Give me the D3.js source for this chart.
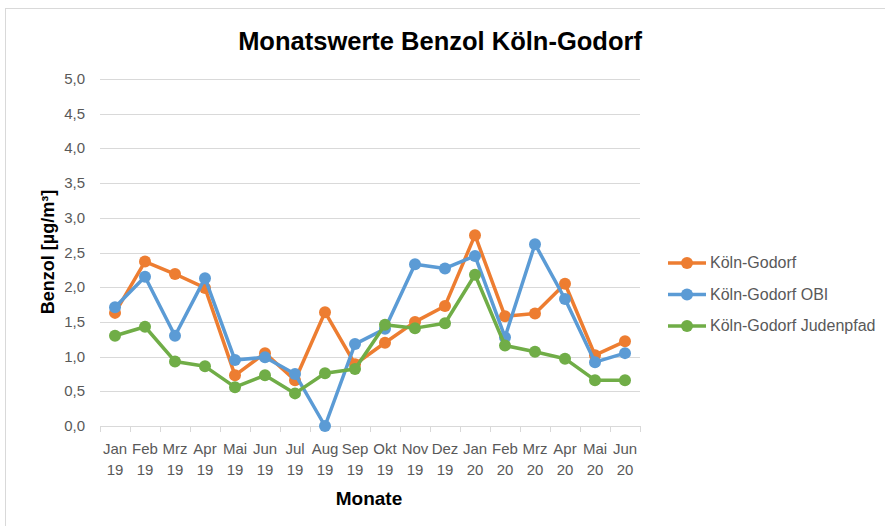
<!DOCTYPE html>
<html>
<head>
<meta charset="utf-8">
<script src="https://cdn.jsdelivr.net/npm/d3@7"></script>
<style>
  body { margin: 0; background: #fff; }
  svg { display: block; font-family: "Liberation Sans", Arial, sans-serif; }
</style>
</head>
<body>
<svg id="chart" width="885" height="526"></svg>
<script>
const months = ["Jan", "Feb", "Mrz", "Apr", "Mai", "Jun", "Jul", "Aug", "Sep", "Okt", "Nov", "Dez",
                "Jan", "Feb", "Mrz", "Apr", "Mai", "Jun"];
const years = ["19", "19", "19", "19", "19", "19", "19", "19", "19", "19", "19", "19",
               "20", "20", "20", "20", "20", "20"];

const seriesNames = ["Köln-Godorf", "Köln-Godorf OBI", "Köln-Godorf Judenpfad"];
const godorf =    [1.63, 2.37, 2.19, 1.99, 0.73, 1.05, 0.66, 1.64, 0.89, 1.20, 1.50, 1.73, 2.75, 1.58, 1.62, 2.05, 1.02, 1.22];
const godorfObi = [1.71, 2.15, 1.30, 2.13, 0.95, 0.99, 0.75, 0.00, 1.18, 1.40, 2.33, 2.27, 2.45, 1.28, 2.62, 1.83, 0.92, 1.05];
const judenpfad = [1.30, 1.43, 0.93, 0.86, 0.56, 0.73, 0.47, 0.76, 0.82, 1.46, 1.41, 1.48, 2.18, 1.16, 1.07, 0.97, 0.66, 0.66];
const colors = ["#ED7D31", "#5B9BD5", "#70AD47"];
const yTicks = [0, 0.5, 1, 1.5, 2, 2.5, 3, 3.5, 4, 4.5, 5];

const svg = d3.select("#chart");
const W = 885, H = 526;

// chart frame
svg.append("rect")
  .attr("x", 5.5).attr("y", 8.5)
  .attr("width", W + 10).attr("height", H + 10)
  .attr("fill", "#fff").attr("stroke", "#d9d9d9");

const idx = d3.range(months.length);
const x = d3.scaleBand().domain(idx).range([100, 640]);
const y = d3.scaleLinear().domain([0, 5]).range([426, 79]);

// gridlines
svg.append("g")
  .selectAll("line")
  .data(yTicks.filter(d => d > 0))
  .join("line")
  .attr("x1", 100).attr("x2", 640)
  .attr("y1", d => Math.round(y(d)) + 0.5).attr("y2", d => Math.round(y(d)) + 0.5)
  .attr("stroke", "#d9d9d9").attr("stroke-width", 1);

// y labels
svg.append("g")
  .selectAll("text")
  .data(yTicks)
  .join("text")
  .attr("x", 85).attr("y", d => y(d) + 5)
  .attr("text-anchor", "end")
  .attr("fill", "#595959").attr("font-size", 15)
  .text(d => d3.format(".1f")(d).replace(".", ","));

// x axis line and ticks
svg.append("line")
  .attr("x1", 100).attr("x2", 640)
  .attr("y1", 426.5).attr("y2", 426.5)
  .attr("stroke", "#d9d9d9");
svg.append("g")
  .selectAll("line")
  .data(d3.range(months.length + 1))
  .join("line")
  .attr("x1", i => Math.round(100 + i * x.step()) + 0.5)
  .attr("x2", i => Math.round(100 + i * x.step()) + 0.5)
  .attr("y1", 426).attr("y2", 432)
  .attr("stroke", "#d9d9d9");

// x labels
const xl = svg.append("g")
  .selectAll("text")
  .data(idx)
  .join("text")
  .attr("text-anchor", "middle")
  .attr("fill", "#595959").attr("font-size", 15);
xl.append("tspan")
  .attr("x", i => x(i) + x.bandwidth() / 2).attr("y", 454)
  .text(i => months[i]);
xl.append("tspan")
  .attr("x", i => x(i) + x.bandwidth() / 2).attr("y", 475)
  .text(i => years[i]);

// series
const allSeries = [godorf, godorfObi, judenpfad];
const line = d3.line()
  .x((d, i) => x(i) + x.bandwidth() / 2)
  .y(d => y(d));

allSeries.forEach((vals, s) => {
  const g = svg.append("g");
  g.append("path")
    .datum(vals)
    .attr("d", line)
    .attr("fill", "none")
    .attr("stroke", colors[s])
    .attr("stroke-width", 3.5)
    .attr("stroke-linejoin", "round");
  g.selectAll("circle")
    .data(vals)
    .join("circle")
    .attr("cx", (d, i) => x(i) + x.bandwidth() / 2)
    .attr("cy", d => y(d))
    .attr("r", 6)
    .attr("fill", colors[s]);
});

// title
svg.append("text")
  .attr("x", 440).attr("y", 50)
  .attr("text-anchor", "middle")
  .attr("font-size", 25.5).attr("font-weight", "bold")
  .attr("fill", "#000")
  .text("Monatswerte Benzol Köln-Godorf");

// axis titles
svg.append("text")
  .attr("transform", "translate(54,252) rotate(-90)")
  .attr("text-anchor", "middle")
  .attr("font-size", 18).attr("font-weight", "bold")
  .text("Benzol [µg/m³]");
svg.append("text")
  .attr("x", 369).attr("y", 505)
  .attr("text-anchor", "middle")
  .attr("font-size", 19).attr("font-weight", "bold")
  .text("Monate");

// legend
const legend = svg.append("g")
  .selectAll("g")
  .data(seriesNames)
  .join("g")
  .attr("transform", (d, i) => `translate(668,${263 + i * 31.5})`);
legend.append("line")
  .attr("x1", 0).attr("x2", 38)
  .attr("stroke", (d, i) => colors[i]).attr("stroke-width", 3.5);
legend.append("circle")
  .attr("cx", 19).attr("r", 6)
  .attr("fill", (d, i) => colors[i]);
legend.append("text")
  .attr("x", 42).attr("y", 5)
  .attr("font-size", 16).attr("fill", "#595959")
  .text(d => d);
</script>
</body>
</html>
